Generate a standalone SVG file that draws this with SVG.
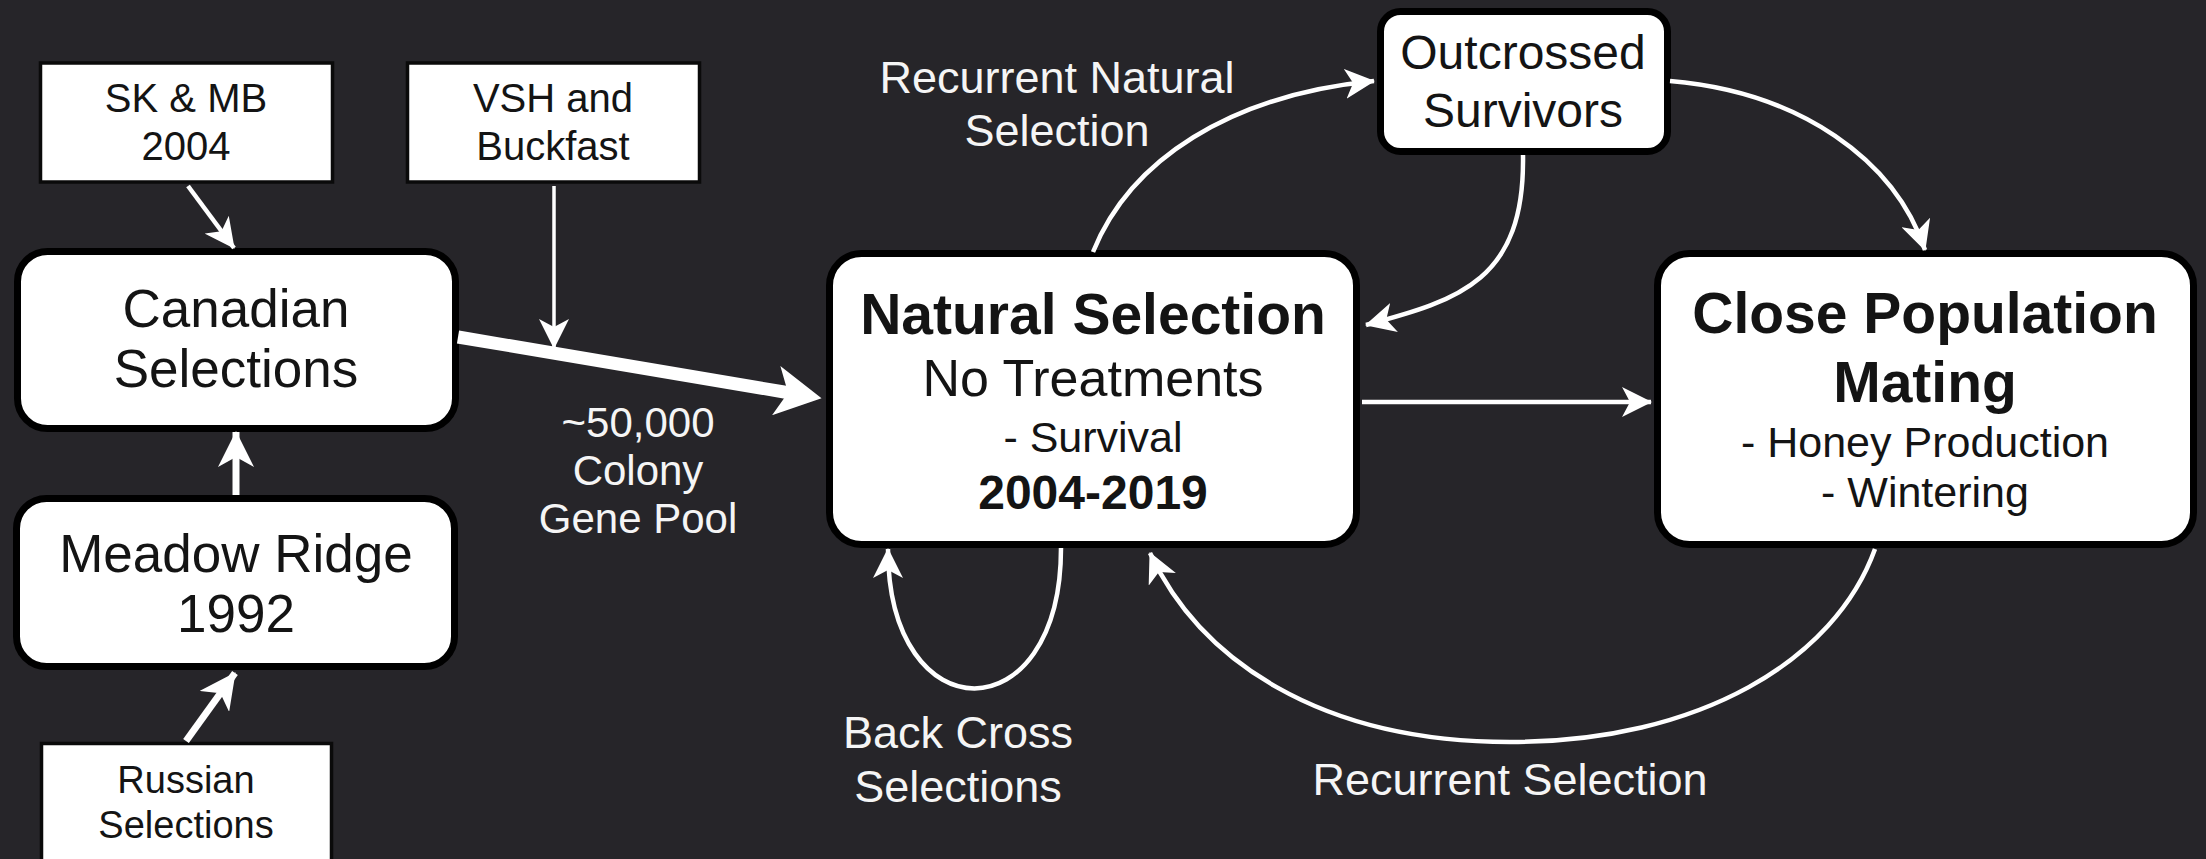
<svg xmlns="http://www.w3.org/2000/svg" width="2206" height="859" viewBox="0 0 2206 859">
<style>
text{font-family:"Liberation Sans",Arial,Helvetica,sans-serif;text-anchor:middle}
.dark{fill:#141414}
.lbl{fill:#f5f5f5}
.b{font-weight:bold}
.rbox{fill:#ffffff;stroke:#000000;stroke-width:7}
.sbox{fill:#ffffff;stroke:#0a0a0a;stroke-width:3.5}
.ln{fill:none;stroke:#ffffff;stroke-width:4.5}
.ln3{fill:none;stroke:#ffffff;stroke-width:3.5}
.lnm{fill:none;stroke:#ffffff;stroke-width:7}
.lnl{fill:none;stroke:#ffffff;stroke-width:13}
</style>
<defs>
<marker id="arr" markerUnits="userSpaceOnUse" viewBox="0 0 30 30" markerWidth="30" markerHeight="30" refX="29" refY="15" orient="auto">
<path d="M0,0 L30,15 L0,30 L8,15 Z" fill="#ffffff"/>
</marker>
<marker id="arrM" markerUnits="userSpaceOnUse" viewBox="0 0 36 36" markerWidth="36" markerHeight="36" refX="35" refY="18" orient="auto">
<path d="M0,0 L36,18 L0,36 L10,18 Z" fill="#ffffff"/>
</marker>
<marker id="arrL" markerUnits="userSpaceOnUse" viewBox="0 0 46 50" markerWidth="46" markerHeight="50" refX="14" refY="25" orient="auto">
<path d="M0,0 L46,25 L0,50 L12,25 Z" fill="#ffffff"/>
</marker>
</defs>
<rect x="0" y="0" width="2206" height="859" fill="#262529"/>

<g id="n-skmb">
<rect class="sbox" x="40.5" y="63" width="292" height="119"/>
<text class="dark" x="186" y="112" font-size="40">SK &amp; MB</text>
<text class="dark" x="186" y="160" font-size="40">2004</text>
</g>
<g id="n-vsh">
<rect class="sbox" x="407.5" y="63" width="292" height="119"/>
<text class="dark" x="553" y="112" font-size="40">VSH and</text>
<text class="dark" x="553" y="160" font-size="40">Buckfast</text>
</g>
<g id="n-canadian">
<rect class="rbox" x="17.5" y="251.5" width="438" height="177" rx="30"/>
<text class="dark" x="236" y="327" font-size="53">Canadian</text>
<text class="dark" x="236" y="387" font-size="53">Selections</text>
</g>
<g id="n-meadow">
<rect class="rbox" x="16.5" y="498.5" width="438" height="168" rx="30"/>
<text class="dark" x="236" y="572" font-size="53">Meadow Ridge</text>
<text class="dark" x="236" y="632" font-size="53">1992</text>
</g>
<g id="n-russian">
<rect class="sbox" x="41.5" y="743.5" width="290" height="140"/>
<text class="dark" x="186" y="793" font-size="38">Russian</text>
<text class="dark" x="186" y="838" font-size="38">Selections</text>
</g>
<g id="n-natural">
<rect class="rbox" x="829.5" y="253.5" width="527" height="291" rx="32"/>
<text class="dark b" x="1093" y="334" font-size="57">Natural Selection</text>
<text class="dark" x="1093" y="396" font-size="52">No Treatments</text>
<text class="dark" x="1093" y="452" font-size="43">- Survival</text>
<text class="dark b" x="1093" y="509" font-size="48">2004-2019</text>
</g>
<g id="n-outcrossed">
<rect class="rbox" x="1380.5" y="11.5" width="287" height="140" rx="20"/>
<text class="dark" x="1523" y="69" font-size="48">Outcrossed</text>
<text class="dark" x="1523" y="127" font-size="48">Survivors</text>
</g>
<g id="n-close">
<rect class="rbox" x="1657.5" y="253.5" width="536" height="291" rx="32"/>
<text class="dark b" x="1925" y="333" font-size="57">Close Population</text>
<text class="dark b" x="1925" y="402" font-size="57">Mating</text>
<text class="dark" x="1925" y="457" font-size="43">- Honey Production</text>
<text class="dark" x="1925" y="507" font-size="43">- Wintering</text>
</g>

<g id="connectors">
<path class="ln" d="M188,186 L234,248" marker-end="url(#arr)"/>
<path class="ln3" d="M554,186 L554,348" marker-end="url(#arr)"/>
<path class="lnl" d="M458,337 L790,393" marker-end="url(#arrL)"/>
<path class="lnm" d="M236,495 L236,432" marker-end="url(#arrM)"/>
<path class="lnm" d="M186,741 L235,673" marker-end="url(#arrM)"/>
<path class="ln" d="M1093,252 C1130,160 1230,95 1374,81" marker-end="url(#arr)"/>
<path class="ln" d="M1523,155 C1525,280 1460,300 1366,325" marker-end="url(#arr)"/>
<path class="ln" d="M1670,81 C1800,92 1895,160 1925,250" marker-end="url(#arr)"/>
<path class="ln" d="M1362,402 L1651,402" marker-end="url(#arr)"/>
<path class="ln" d="M1061,548 C1061,735 888,735 888,549" marker-end="url(#arr)"/>
<path class="ln" d="M1875,549 C1835,660 1700,742 1510,742 C1320,742 1200,660 1150,553" marker-end="url(#arr)"/>
</g>

<g id="labels">
<text class="lbl" x="1057" y="93" font-size="45">Recurrent Natural</text>
<text class="lbl" x="1057" y="146" font-size="45">Selection</text>
<text class="lbl" x="638" y="437" font-size="42">~50,000</text>
<text class="lbl" x="638" y="485" font-size="42">Colony</text>
<text class="lbl" x="638" y="533" font-size="42">Gene Pool</text>
<text class="lbl" x="958" y="748" font-size="45">Back Cross</text>
<text class="lbl" x="958" y="802" font-size="45">Selections</text>
<text class="lbl" x="1510" y="795" font-size="45">Recurrent Selection</text>
</g>
</svg>
